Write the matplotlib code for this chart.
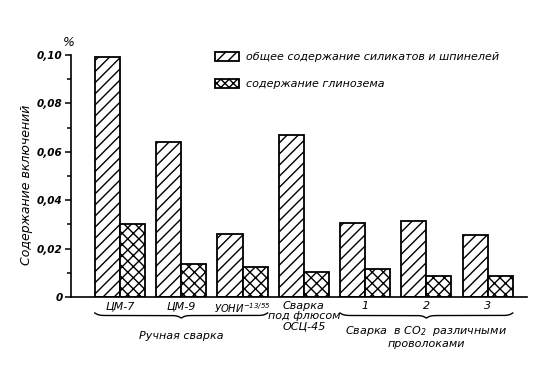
import numpy as np
import matplotlib
matplotlib.use('Agg')
import matplotlib.pyplot as plt
from matplotlib.patches import Patch
from matplotlib.ticker import MultipleLocator

plt.rcParams['font.family'] = ['DejaVu Sans']
plt.rcParams['font.style'] = 'italic'
plt.rcParams['mathtext.default'] = 'it'
plt.rcParams['hatch.linewidth'] = 1.0

# data
categories = ["ЦМ-7", "ЦМ-9", "УОНИ$^{-13/55}$", "Сварка\nпод флюсом\nОСЦ-45", "1", "2", "3"]
silicates = [0.099, 0.064, 0.026, 0.067, 0.0305, 0.0315, 0.0256]
alumina = [0.030, 0.0136, 0.0124, 0.0103, 0.0116, 0.0087, 0.0087]
series_names = ["общее содержание силикатов и шпинелей", "содержание глинозема"]
ytick_vals = [0, 0.02, 0.04, 0.06, 0.08, 0.10]
ytick_text = ["0", "0,02", "0,04", "0,06", "0,08", "0,10"]
groups = [("Ручная сварка", 0, 2, -0.14),
          ("Сварка  в CO$_2$  различными\nпроволоками", 4, 6, -0.113)]

fs = 8
x = np.arange(len(categories))
w = 0.41

fig = plt.figure(figsize=(5.54, 3.72), dpi=100)
ax = fig.add_axes([0.128, 0.2016, 0.823, 0.6505])

ax.bar(x - w / 2, silicates, w, facecolor='white', edgecolor='black',
       hatch='///', linewidth=1.3)
ax.bar(x + w / 2, alumina, w, facecolor='white', edgecolor='black',
       hatch='xxx', linewidth=1.3)

ax.set_xlim(-0.8, 6.64)
ax.set_ylim(0, 0.10)
ax.spines['top'].set_visible(False)
ax.spines['right'].set_visible(False)
ax.spines['left'].set_linewidth(1.2)
ax.spines['bottom'].set_linewidth(1.2)

ax.set_yticks(ytick_vals)
ax.set_yticklabels(ytick_text, fontsize=7.5, fontweight='bold')
ax.yaxis.set_minor_locator(MultipleLocator(0.01))
ax.tick_params(axis='y', which='major', length=4, width=1.1, pad=2)
ax.tick_params(axis='y', which='minor', length=3, width=1.1)

ax.set_xticks(x)
ax.set_xticklabels(categories, fontsize=fs, linespacing=1.0)
ax.get_xticklabels()[2].set_fontsize(7.2)
ax.tick_params(axis='x', length=0, pad=3)

ax.text(-0.004, 1.05, "%", transform=ax.transAxes, ha='center', va='center',
        fontsize=fs + 1)
fig.text(27 / 554, 1 - 185 / 372, "Содержание включений", rotation=90,
         ha='center', va='center', fontsize=9)


def brace(x0, x1, y_end, step, beta=30):
    trans = ax.get_xaxis_transform()
    xm = (x0 + x1) / 2
    xs = np.linspace(x0, xm, 200)
    h = (1 / (1 + np.exp(-beta * (xs - xs[0]))) +
         1 / (1 + np.exp(-beta * (xs - xs[-1])))) - 0.5
    xx = np.concatenate([xs, 2 * xm - xs[::-1]])
    hh = np.concatenate([h, h[::-1]])
    ax.plot(xx, y_end - hh * step, color='black', lw=1.0,
            transform=trans, clip_on=False)


for label, a, b, ty in groups:
    brace(a - w, b + w, -0.066, 0.021)
    ax.text((a + b) / 2, ty, label, transform=ax.get_xaxis_transform(),
            ha='center', va='top', fontsize=fs, linespacing=1.1)

handles = [Patch(facecolor='white', edgecolor='black', hatch='///', lw=1.3),
           Patch(facecolor='white', edgecolor='black', hatch='xxxx', lw=1.3)]
fig.legend(handles, series_names, loc='upper left',
           bbox_to_anchor=(215 / 554, 1 - 52 / 372), frameon=False,
           fontsize=fs, handlelength=2.2, handleheight=0.8,
           handletextpad=0.6, labelspacing=1.55, borderpad=0, borderaxespad=0)

plt.savefig("out.png", dpi=100)
plt.close()
